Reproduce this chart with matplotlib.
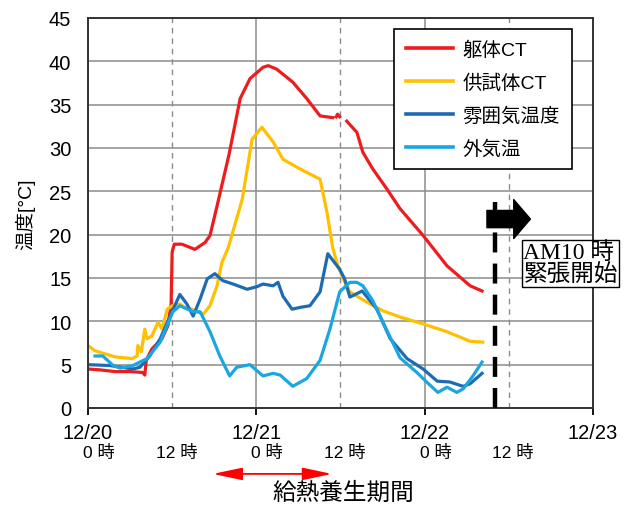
import matplotlib.pyplot as plt
import numpy as np

plt.rcParams['font.family'] = ['Liberation Sans', 'Noto Sans CJK JP']

# elapsed hours from 12/20 0:00 and temperatures [°C]
kutai_h = [0, 1.7, 3.85, 6.0, 7.8, 8.1, 8.3, 9.1, 10.55, 11.4, 11.85, 12.0, 12.3, 13.4,
           15.25, 16.7, 17.4, 18.4, 20.1, 21.7, 23.1, 24.95, 25.7, 26.9, 29.2, 31.2,
           33.1, 34.9, 35.1, 35.4, 35.6, 35.9, 36.7, 36.9, 38.35, 39.2, 40.6, 42.6,
           44.5, 47.8, 51.2, 54.5, 56.2]
kutai_t = [4.5, 4.4, 4.2, 4.2, 4.1, 3.8, 5.5, 6.8, 8.0, 9.5, 12.0, 18.0, 18.9, 18.9,
           18.3, 19.1, 19.9, 23.3, 29.2, 35.7, 38.0, 39.3, 39.5, 39.1, 37.6, 35.7,
           33.7, 33.5, np.nan, 33.6, 33.9, 33.6, np.nan, 33.1, 31.8, 29.5, 27.6, 25.3,
           23.0, 19.9, 16.4, 14.1, 13.5]

kyoshi_h = [0, 1.0, 3.85, 6.3, 7.0, 7.1, 7.6, 8.1, 8.4, 9.1, 10.0, 10.55, 11.3, 12.0,
            13.1, 13.8, 14.8, 16.4, 17.4, 18.4, 19.1, 20.0, 22.0, 23.4, 24.8, 26.4,
            27.8, 30.2, 32.6, 33.1, 34.1, 34.9, 35.6, 36.4, 37.35, 39.8, 42.1, 44.5,
            47.8, 51.2, 54.5, 56.3]
kyoshi_t = [7.2, 6.6, 5.9, 5.7, 6.0, 7.2, 6.5, 9.1, 8.0, 8.3, 9.9, 9.1, 11.4, 11.8,
            12.0, 11.6, 11.4, 10.8, 11.8, 14.1, 16.8, 18.5, 24.1, 31.0, 32.4, 30.7,
            28.7, 27.6, 26.6, 26.4, 22.5, 18.5, 16.5, 14.9, 13.4, 12.2, 11.2, 10.5,
            9.7, 8.8, 7.7, 7.6]

fun_h = [0, 3.1, 6.4, 7.4, 8.8, 10.3, 11.7, 13.1, 14.1, 15.0, 16.0, 17.0, 18.1, 19.2,
         20.7, 22.7, 24.1, 24.95, 26.4, 27.1, 27.8, 29.1, 30.2, 31.65, 33.1, 34.2,
         35.9, 36.6, 37.35, 39.1, 41.2, 43.1, 45.5, 47.8, 49.8, 51.6, 53.5, 54.5, 56.2]
fun_t = [5.0, 4.9, 4.5, 4.7, 6.0, 8.0, 10.6, 13.1, 12.0, 10.6, 12.6, 14.9, 15.5, 14.7,
         14.3, 13.7, 14.0, 14.3, 14.1, 14.5, 12.9, 11.4, 11.6, 11.8, 13.4, 17.8,
         16.0, 14.9, 12.8, 13.5, 11.4, 8.0, 5.7, 4.5, 3.1, 3.0, 2.5, 2.8, 4.0]

gaiki_h = [1.0, 2.1, 3.6, 4.6, 6.4, 8.4, 10.3, 12.1, 13.1, 15.0, 16.0, 17.4, 18.8,
           20.2, 21.2, 23.1, 24.95, 26.4, 27.4, 28.8, 29.2, 31.2, 33.1, 34.5, 35.9,
           37.35, 38.35, 39.2, 40.6, 42.6, 44.5, 45.9, 46.9, 48.3, 49.9, 51.2, 52.6,
           53.5, 54.9, 56.2]
gaiki_t = [6.0, 6.0, 4.9, 4.6, 4.9, 5.7, 7.6, 11.1, 11.8, 11.1, 11.1, 8.8, 6.0,
           3.7, 4.7, 5.0, 3.7, 4.0, 3.8, 2.8, 2.5, 3.4, 5.5, 9.1, 13.4,
           14.5, 14.5, 14.1, 12.4, 9.0, 5.8, 4.8, 4.1, 3.0, 1.8, 2.4, 1.8,
           2.2, 3.7, 5.3]

day_ticks = [0, 24, 48, 72]
day_labels = ['12/20', '12/21', '12/22', '12/23']
hour_pos = [0, 12, 24, 36, 48, 60]
hour_labels = ['0 時', '12 時', '0 時', '12 時', '0 時', '12 時']
tension_start = 58      # 12/22 AM10
curing = (17.8, 34.8)   # heat curing period

fig = plt.figure(figsize=(6.26, 5.06), dpi=100)
ax = fig.add_axes([0.1406, 0.1917, 0.8064, 0.7708])

ax.plot(kutai_h, kutai_t, color='#EE1C1C', lw=2.3, label='躯体CT')
ax.plot(kyoshi_h, kyoshi_t, color='#FFC000', lw=2.3, label='供試体CT')
ax.plot(fun_h, fun_t, color='#1E6BB5', lw=2.3, label='雰囲気温度')
ax.plot(gaiki_h, gaiki_t, color='#1BA6E2', lw=2.3, label='外気温')

ax.set_xlim(0, 72)
ax.set_ylim(0, 45)
ax.set_yticks(np.arange(0, 46, 5))
ax.set_xticks(day_ticks)
ax.set_xticklabels(day_labels)
ax.tick_params(axis='y', length=0, pad=12, labelsize=14.5)
ax.tick_params(axis='x', length=5, width=1.3, pad=6, labelsize=14.5)
ax.grid(True, color='#8c8c8c', lw=1.1)
ax.set_axisbelow(True)
for h in [12, 36, 60]:
    ax.axvline(h, color='#8c8c8c', lw=1.0, ls=(0, (4, 3.5)), zorder=0.5)
for s in ax.spines.values():
    s.set_color('#333333')
    s.set_linewidth(1.4)

ax.set_ylabel('温度[°C]', fontsize=14, labelpad=10)

# hour labels under the date labels
for h, lab in zip(hour_pos, hour_labels):
    dx = 8 if lab.startswith('0') else 3
    ax.annotate(lab, xy=(h, 0), xycoords=('data', 'axes fraction'),
                xytext=(dx, -32), textcoords='offset points',
                ha='center', va='center', fontsize=12.5, annotation_clip=False)

leg = ax.legend(loc='upper right', bbox_to_anchor=(0.958, 0.972), borderaxespad=0,
                fancybox=False, framealpha=1, edgecolor='black', fontsize=14,
                handlelength=2.4, labelspacing=0.75, borderpad=0.6,
                handletextpad=0.5)
leg.get_frame().set_linewidth(1.2)
for line in leg.get_lines():
    line.set_linewidth(2.6)

# start of tensioning
ax.plot([tension_start, tension_start], [0, 23.8], color='black', lw=3.2,
        ls=(0, (4.5, 2.5)), zorder=5)
ax.annotate('', xy=(63.1, 21.8), xytext=(56.9, 21.8),
            arrowprops=dict(arrowstyle='simple,head_length=0.6,head_width=1.4,tail_width=0.62',
                            color='black', mutation_scale=20, shrinkA=0, shrinkB=0))
ax.text(62.1, 19.2, 'AM10 時\n緊張開始', fontsize=17, ha='left', va='top',
        family=['Liberation Serif', 'Noto Sans CJK JP'], linespacing=1.0,
        bbox=dict(facecolor='white', edgecolor='black', lw=1.0, pad=1.0),
        clip_on=False, zorder=6)

# heat curing period
ax.annotate('', xy=(curing[1], -0.169), xycoords=('data', 'axes fraction'),
            xytext=(curing[0], -0.169), textcoords=('data', 'axes fraction'),
            arrowprops=dict(arrowstyle='<|-|>,head_length=1.8,head_width=0.38',
                            color='#FF0000', lw=1.3, mutation_scale=10,
                            shrinkA=0, shrinkB=0),
            annotation_clip=False)
ax.text(36.4, -0.217, '給熱養生期間', transform=ax.get_xaxis_transform(),
        fontsize=17, ha='center', va='center',
        family=['Liberation Serif', 'Noto Sans CJK JP'])

fig.savefig('out.png', dpi=100)
